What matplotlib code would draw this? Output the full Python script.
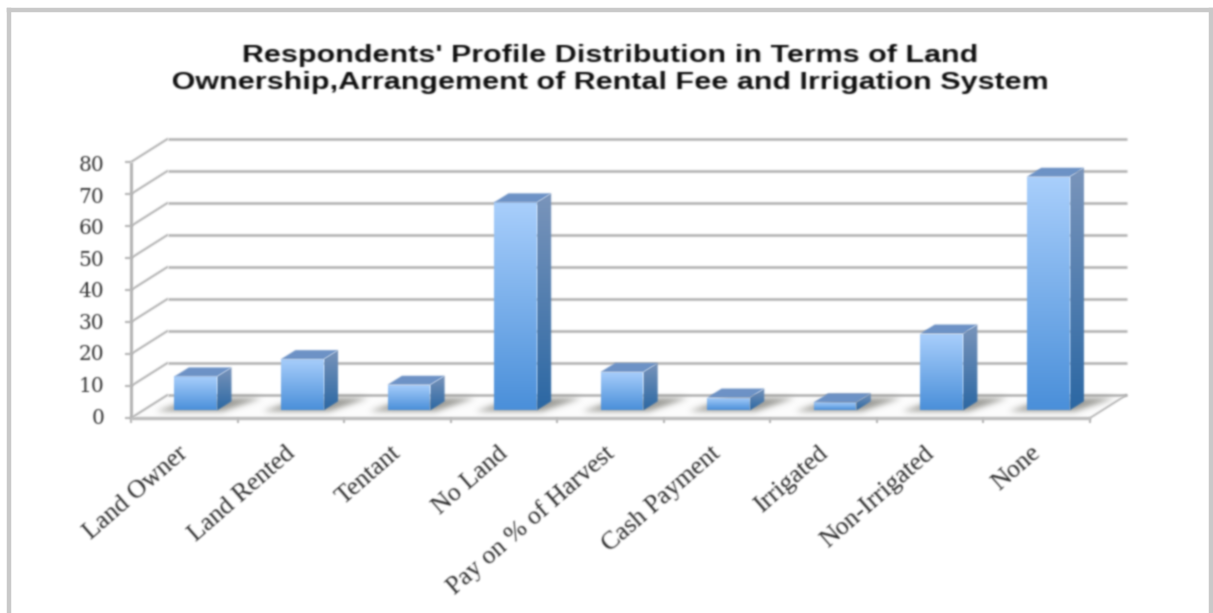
#!/usr/bin/env python
"""Pseudo-3D column chart of respondents' land / rental / irrigation profile."""
import matplotlib
matplotlib.use("Agg")
import matplotlib.pyplot as plt
import numpy as np
from matplotlib.colors import LinearSegmentedColormap
from matplotlib.lines import Line2D
from matplotlib.patches import Polygon

categories = ["Land Owner", "Land Rented", "Tentant", "No Land", "Pay on % of Harvest",
              "Cash Payment", "Irrigated", "Non-Irrigated", "None"]
values = [10.6, 16, 8, 65, 12, 4, 2.5, 24, 73]
y_ticks = [0, 10, 20, 30, 40, 50, 60, 70, 80]
title = ("Respondents' Profile Distribution in Terms of Land\n"
         "Ownership,Arrangement of Rental Fee and Irrigation System")

W, H = 1213, 613
# wall depth and bar geometry, in axis units
DX, DY = 0.347, 7.3
BAR_W, BAR_OFF = 0.40, 0.108
BAR_LIFT = 2.4
BAR_DX, BAR_DY = 0.135, 2.8
GRID = "#b4b4b4"


def blur(sigma, stretch=1.0):
    r = int(3 * sigma) + 1
    k = np.exp(-0.5 * (np.arange(-r, r + 1) / sigma) ** 2)
    k /= k.sum()

    def conv(a):
        a = np.apply_along_axis(np.convolve, 0, a, k, mode="same")
        return np.apply_along_axis(np.convolve, 1, a, k, mode="same")

    def _filter(img, dpi):
        ox = 0
        if stretch != 1.0:  # reference is a horizontally stretched screenshot
            w = img.shape[1]
            nw = int(w * stretch)
            src = np.linspace(0, w - 1, nw)
            img = np.apply_along_axis(lambda c: np.interp(src, np.arange(w), c), 1, img)
            ox = -(nw - w) // 2
        img = np.pad(img, ((r, r), (r, r), (0, 0)))
        al = conv(img[..., 3])
        out = np.zeros_like(img)
        for c in range(3):
            out[..., c] = conv(img[..., c] * img[..., 3]) / np.maximum(al, 1e-4)
        out[..., 3] = al
        return np.clip(out, 0, 1), ox - r, -r
    return _filter


soft = blur(0.9)
fig = plt.figure(figsize=(W / 100, H / 100), dpi=100, facecolor="white")
ax = fig.add_axes([131 / W, (H - 418) / H, 959 / W, 256 / H])
ax.axis("off")


def line(xs, ys, color=GRID, lw=1.9, z=1):
    ax.plot(xs, ys, color=color, lw=lw, clip_on=False, zorder=z, agg_filter=soft,
            solid_capstyle="butt")


def grad(x0, x1, y0, y1, poly, c_top, c_bot, z):
    cm = LinearSegmentedColormap.from_list("g", [c_bot, c_top])
    im = ax.imshow(np.linspace(1, 0, 64)[:, None], extent=(x0, x1, y0, y1), cmap=cm,
                   aspect="auto", zorder=z, clip_on=True, interpolation="bilinear")
    patch = Polygon(poly, transform=ax.transData, fc="none", ec="none")
    ax.add_patch(patch)
    im.set_clip_path(patch)
    im.set_agg_filter(soft)


n = len(categories)
# floor
ax.add_patch(Polygon([(0, 0), (n, 0), (n + DX, DY), (DX, DY)], fc="#fcfcfc", ec="none", zorder=0,
                     clip_on=False))
# back wall gridlines + left wall diagonals + front axis
for t in y_ticks:
    line([DX, n + DX], [t + DY, t + DY])
    line([0, DX], [t, t + DY], lw=1.5)
    line([-0.06, 0], [t, t], lw=1.5)
line([0, 0], [0, y_ticks[-1]], lw=2.2)
line([0, n], [0, 0], lw=2.4, color="#bdbdbd", z=4)
line([n, n + DX], [0, DY], lw=1.3)
for i in range(n + 1):
    line([i, i], [0, -1.6], lw=1.5)

# ground shadows, then the columns
shadow_blur = blur(3.0)
for i, v in enumerate(values):
    x0 = i + 0.5 - BAR_W / 2 + BAR_OFF
    x1 = x0 + BAR_W
    yb = BAR_LIFT
    yt = yb + v
    ax.add_patch(Polygon([(x0 - 0.17, yb - 0.3), (x1 + 0.05, yb - 0.3), (x1 + 0.42, yb + 3.9), (x0 + 0.2, yb + 3.9)],
                         fc="#8a8a84", ec="none", alpha=0.85, zorder=3, clip_on=False, agg_filter=shadow_blur))
    front = [(x0, yb), (x1, yb), (x1, yt), (x0, yt)]
    side = [(x1, yb), (x1 + BAR_DX, yb + BAR_DY), (x1 + BAR_DX, yt + BAR_DY), (x1, yt)]
    top = [(x0, yt), (x1, yt), (x1 + BAR_DX, yt + BAR_DY), (x0 + BAR_DX, yt + BAR_DY)]
    grad(x1, x1 + BAR_DX, yb, yt + BAR_DY, side, "#7a95bb", "#2c68a4", 5)
    grad(x0, x1, yb, yt, front, "#a9cffc", "#4b90da", 6)
    ax.add_patch(Polygon(top, fc="#6d92c6", ec="none", zorder=6, agg_filter=soft))

ax.set_xlim(0, n)
ax.set_ylim(0, y_ticks[-1])

# tick labels
for t in y_ticks:
    ax.text(-0.253, t * 0.985, str(t), ha="right", va="center", family="DejaVu Serif", fontsize=14.5,
            color="#333333", agg_filter=soft, clip_on=False)
for i, c in enumerate(categories):
    ax.text(i + 0.44, -7.5, c, rotation=41, rotation_mode="anchor", ha="right", va="top",
            family="Liberation Serif", fontsize=18.5, color="#2a2a2a", agg_filter=soft, clip_on=False)

fig.text(610 / W, 1 - 69 / H, title, ha="center", va="center", family="Liberation Sans", fontweight="bold",
         fontsize=17.5, color="#0c0c0c", linespacing=1.27, agg_filter=blur(0.9, stretch=1.257))

# outer frame
for xs, ys in [([9, 9], [10, 613]), ([9, 1211], [10, 10]), ([1211, 1211], [10, 613])]:
    fig.add_artist(Line2D([x / W for x in xs], [1 - y / H for y in ys], color="#c9c9c9", lw=3.2))

fig.savefig("out.png", dpi=100)
